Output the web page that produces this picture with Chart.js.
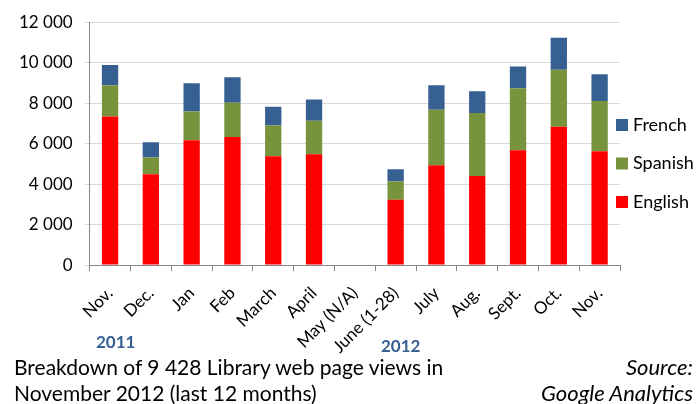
<!DOCTYPE html>
<html>
<head>
<meta charset="utf-8">
<script src="https://cdn.jsdelivr.net/npm/chart.js@4"></script>
<style>
  html, body { margin: 0; padding: 0; background: #fff; }
  #wrap { position: relative; width: 698px; height: 404px; overflow: hidden; font-family: Lato, sans-serif; }
  #chart { position: absolute; left: 0; top: 0; }
  .txt { position: absolute; white-space: nowrap; color: #000; }
  .year { font-weight: bold; color: #376092; font-size: 17px; line-height: 20px; }
</style>
</head>
<body>
<div id="wrap">
  <canvas id="chart" width="698" height="404"></canvas>
  <div class="txt year" style="left:96px; top:332px;">2011</div>
  <div class="txt year" style="left:381px; top:336px;">2012</div>
  <div class="txt" style="left:14px; top:354px; font-size:21px; line-height:26px;">Breakdown of 9 428 Library web page views in<br>November 2012 (last 12 months)</div>
  <div class="txt" style="right:5px; top:354px; font-size:22px; line-height:26px; font-style:italic; text-align:right;">Source:<br>Google Analytics</div>
</div>
<script>
const months = ['Nov.', 'Dec.', 'Jan', 'Feb', 'March', 'April', 'May (N/A)', 'June (1-28)', 'July', 'Aug.', 'Sept.', 'Oct.', 'Nov.'];
const english = [7340, 4490, 6165, 6330, 5375, 5475, null, 3230, 4935, 4395, 5670, 6835, 5625];
const spanish = [1545, 820, 1425, 1690, 1525, 1655, null, 900, 2740, 3115, 3065, 2820, 2475];
const french  = [1000, 755, 1395, 1260, 920, 1050, null, 605, 1215, 1080, 1080, 1575, 1330];

const ctx = document.getElementById('chart');
const data = { labels: months, datasets: [
  { label: 'English', data: english, backgroundColor: '#ff0000' },
  { label: 'Spanish', data: spanish, backgroundColor: '#77933c' },
  { label: 'French',  data: french,  backgroundColor: '#376092' }
]};

const spaced = (v) => String(v).replace(/\B(?=(\d{3})+(?!\d))/g, ' ');

// legend on the right, drawn by hand so it can sit close to the plot like the Excel one
const sideLegend = {
  id: 'sideLegend',
  afterDraw(chart) {
    const c = chart.ctx;
    const x = chart.chartArea.right - 4;
    c.save();
    c.font = '18px Lato';
    c.textBaseline = 'middle';
    chart.data.datasets.slice().reverse().forEach((ds, i) => {
      const y = 125 + i * 38.5;
      c.fillStyle = ds.backgroundColor;
      c.fillRect(x, y - 6, 12, 12);
      c.fillStyle = '#000';
      c.fillText(ds.label, x + 17, y);
    });
    c.restore();
  }
};

new Chart(ctx, {
  type: 'bar', data,
  plugins: [sideLegend],
  options: {
    responsive: false,
    animation: false,
    layout: { padding: { left: 7, top: 20, right: 78, bottom: 35 } },
    datasets: { bar: { barPercentage: 0.4, categoryPercentage: 1 } },
    plugins: {
      tooltip: { enabled: false },
      legend: { display: false }
    },
    scales: {
      x: {
        stacked: true,
        grid: { offset: true, drawOnChartArea: false, tickLength: 6, color: '#868686' },
        border: { color: '#868686' },
        ticks: { maxRotation: 45, minRotation: 45, autoSkip: false, padding: 12, color: '#000', font: { family: 'Lato', size: 17 } }
      },
      y: {
        stacked: true, min: 0, max: 12000,
        grid: { color: '#d9d9d9', tickLength: 5 },
        border: { color: '#868686' },
        ticks: { stepSize: 2000, color: '#000', padding: 12, font: { family: 'Lato', size: 17 }, callback: spaced }
      }
    }
  }
});
</script>
</body>
</html>
